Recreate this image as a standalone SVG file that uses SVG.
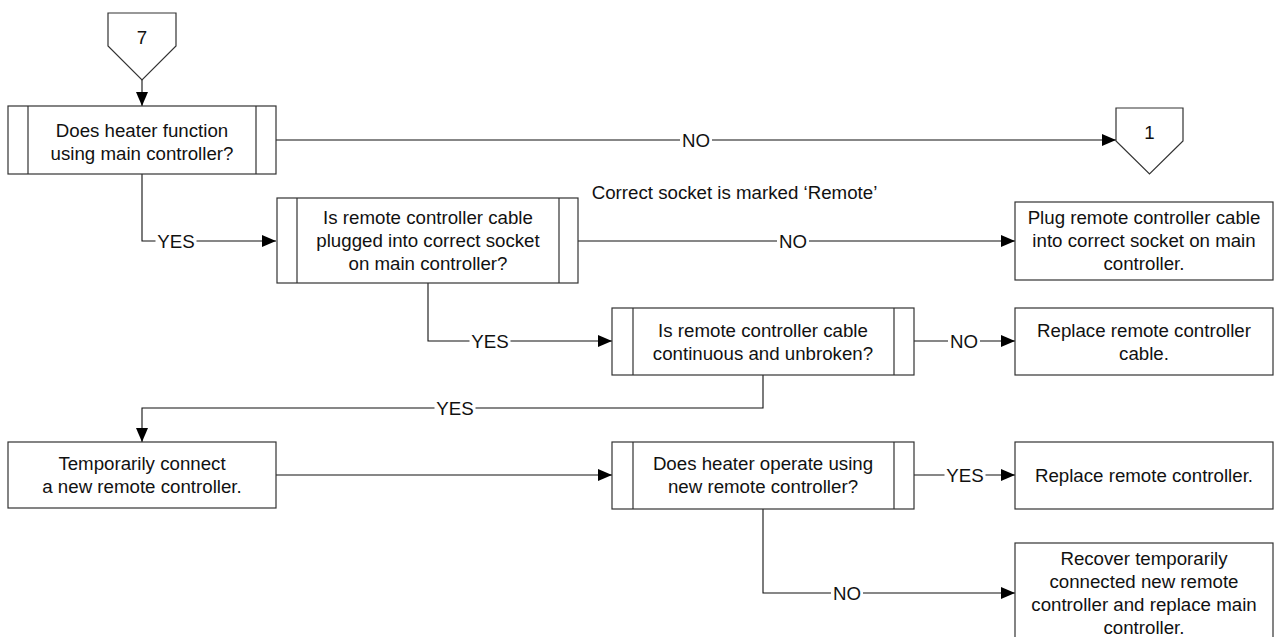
<svg xmlns="http://www.w3.org/2000/svg" width="1285" height="637" viewBox="0 0 1285 637">
  <defs>
    <marker id="arrow" viewBox="0 0 14 12" refX="14" refY="6" markerWidth="14" markerHeight="12" markerUnits="userSpaceOnUse" orient="auto">
      <path d="M0,0 L14,6 L0,12 Z" fill="#000"/>
    </marker>
  </defs>
  <style>
    .shape { fill: #fff; stroke: #333; stroke-width: 1.2; }
    .bar { fill: none; stroke: #333; stroke-width: 1.2; }
    .txt { font-family: "Liberation Sans", Arial, sans-serif; font-size: 18.7px; fill: #111; text-anchor: middle; }
    .wire { fill: none; stroke: #111; stroke-width: 1.1; marker-end: url(#arrow); }
    .gap { fill: #fff; stroke: none; }
    .lbl { font-family: "Liberation Sans", Arial, sans-serif; font-size: 18.7px; fill: #111; text-anchor: middle; }
  </style>
  <rect width="1285" height="637" fill="#fff"/>

  <!-- connectors; each label sits on a white patch that breaks its line -->
  <g id="connectors">
    <path class="wire" d="M142,80 L142,106"/>
    <path class="wire" d="M276,140 L1116,140"/>
    <path class="wire" d="M142,174 L142,241 L276,241"/>
    <path class="wire" d="M578,241 L1015,241"/>
    <path class="wire" d="M428,283 L428,341 L612,341"/>
    <path class="wire" d="M914,341 L1015,341"/>
    <path class="wire" d="M763,375 L763,408 L142,408 L142,442"/>
    <path class="wire" d="M276,475 L612,475"/>
    <path class="wire" d="M914,475 L1015,475"/>
    <path class="wire" d="M763,509 L763,593 L1015,593"/>

    <rect class="gap" x="680" y="132" width="32" height="16"/>
    <text class="lbl" x="696" y="146.7">NO</text>
    <rect class="gap" x="155.5" y="233" width="41" height="16"/>
    <text class="lbl" x="176" y="247.7">YES</text>
    <rect class="gap" x="777" y="233" width="32" height="16"/>
    <text class="lbl" x="793" y="247.7">NO</text>
    <rect class="gap" x="469.5" y="333" width="41" height="16"/>
    <text class="lbl" x="490" y="347.7">YES</text>
    <rect class="gap" x="948" y="333" width="32" height="16"/>
    <text class="lbl" x="964" y="347.7">NO</text>
    <rect class="gap" x="434.5" y="400" width="41" height="16"/>
    <text class="lbl" x="455" y="414.7">YES</text>
    <rect class="gap" x="944.5" y="467" width="41" height="16"/>
    <text class="lbl" x="965" y="481.7">YES</text>
    <rect class="gap" x="831" y="585" width="32" height="16"/>
    <text class="lbl" x="847" y="599.7">NO</text>
  </g>

  <!-- off-page reference 7 -->
  <g id="ref7">
    <path class="shape" d="M108,13 L176,13 L176,46 L142,80 L108,46 Z"/>
    <text class="txt" x="142" y="44">7</text>
  </g>

  <!-- off-page reference 1 -->
  <g id="ref1">
    <path class="shape" d="M1116,108 L1183,108 L1183,141 L1149.5,174 L1116,141 Z"/>
    <text class="txt" x="1149.5" y="138.5">1</text>
  </g>

  <g id="q-main">
    <rect class="shape" x="8" y="106" width="268" height="68"/>
    <path class="bar" d="M28,106 V174 M256,106 V174"/>
    <text class="txt" x="142" y="136.7">Does heater function</text>
    <text class="txt" x="142" y="159.7">using main controller?</text>
  </g>

  <g id="q-plugged">
    <rect class="shape" x="277" y="198" width="301" height="85"/>
    <path class="bar" d="M297,198 V283 M559,198 V283"/>
    <text class="txt" x="428" y="224.2">Is remote controller cable</text>
    <text class="txt" x="428" y="247.2">plugged into correct socket</text>
    <text class="txt" x="428" y="270.2">on main controller?</text>
  </g>

  <g id="note-socket">
    <text class="txt" x="734.5" y="199">Correct socket is marked ‘Remote’</text>
  </g>

  <g id="a-plug">
    <rect class="shape" x="1015" y="202" width="258" height="78"/>
    <text class="txt" x="1144" y="224.2">Plug remote controller cable</text>
    <text class="txt" x="1144" y="247.2">into correct socket on main</text>
    <text class="txt" x="1144" y="270.2">controller.</text>
  </g>

  <g id="q-cable">
    <rect class="shape" x="612" y="308" width="302" height="67"/>
    <path class="bar" d="M633,308 V375 M894,308 V375"/>
    <text class="txt" x="763" y="336.7">Is remote controller cable</text>
    <text class="txt" x="763" y="359.7">continuous and unbroken?</text>
  </g>

  <g id="a-cable">
    <rect class="shape" x="1015" y="308" width="258" height="67"/>
    <text class="txt" x="1144" y="336.7">Replace remote controller</text>
    <text class="txt" x="1144" y="359.7">cable.</text>
  </g>

  <g id="s-temp">
    <rect class="shape" x="8" y="442" width="268" height="66"/>
    <text class="txt" x="142" y="470.2">Temporarily connect</text>
    <text class="txt" x="142" y="493.2">a new remote controller.</text>
  </g>

  <g id="q-operate">
    <rect class="shape" x="612" y="442" width="302" height="67"/>
    <path class="bar" d="M633,442 V509 M894,442 V509"/>
    <text class="txt" x="763" y="470.2">Does heater operate using</text>
    <text class="txt" x="763" y="493.2">new remote controller?</text>
  </g>

  <g id="a-remote">
    <rect class="shape" x="1015" y="442" width="258" height="67"/>
    <text class="txt" x="1144" y="481.7">Replace remote controller.</text>
  </g>

  <g id="a-main">
    <rect class="shape" x="1015" y="543" width="258" height="100"/>
    <text class="txt" x="1144" y="565.2">Recover temporarily</text>
    <text class="txt" x="1144" y="588.2">connected new remote</text>
    <text class="txt" x="1144" y="611.2">controller and replace main</text>
    <text class="txt" x="1144" y="634.2">controller.</text>
  </g>
</svg>
